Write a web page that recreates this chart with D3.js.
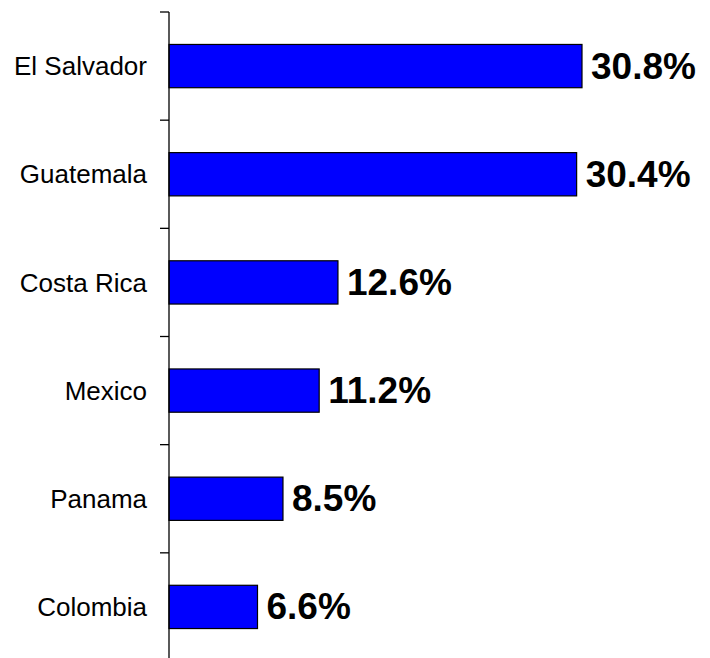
<!DOCTYPE html>
<html>
<head>
<meta charset="utf-8">
<script src="https://cdn.jsdelivr.net/npm/d3@7"></script>
<style>
  body { margin: 0; background: #fff; }
  text { font-family: Arial, "Liberation Sans", sans-serif; }
</style>
</head>
<body>
<div id="chart"></div>
<script>
const categories = ['El Salvador', 'Guatemala', 'Costa Rica', 'Mexico', 'Panama', 'Colombia'];
const values = [30.8, 30.4, 12.6, 11.2, 8.5, 6.6];
const valueLabels = ['30.8%', '30.4%', '12.6%', '11.2%', '8.5%', '6.6%'];

const width = 710, height = 658;
const axisX = 169;

const svg = d3.select('#chart')
  .append('svg')
  .attr('width', width)
  .attr('height', height);

const x = d3.scaleLinear()
  .domain([0, 30.8])
  .range([axisX, 582]);

const y = d3.scaleBand()
  .domain(categories)
  .range([12, 661])
  .paddingInner(0.6)
  .paddingOuter(0.3);

// bars
svg.selectAll('.bar')
  .data(categories)
  .join('rect')
  .attr('class', 'bar')
  .attr('x', axisX)
  .attr('y', d => y(d))
  .attr('width', (d, i) => x(values[i]) - axisX)
  .attr('height', y.bandwidth())
  .attr('fill', '#0000ff')
  .attr('stroke', '#000')
  .attr('stroke-width', 1.2);

// axis line and ticks between categories
const step = y.step();
const tickYs = d3.range(categories.length + 1).map(i => 12 + i * step);

svg.append('line')
  .attr('x1', axisX).attr('x2', axisX)
  .attr('y1', 12).attr('y2', height)
  .attr('stroke', '#000')
  .attr('stroke-width', 1.3);

svg.selectAll('.tick')
  .data(tickYs)
  .join('line')
  .attr('class', 'tick')
  .attr('x1', axisX - 9).attr('x2', axisX)
  .attr('y1', d => d).attr('y2', d => d)
  .attr('stroke', '#000')
  .attr('stroke-width', 1.3);

// category labels
svg.selectAll('.cat-label')
  .data(categories)
  .join('text')
  .attr('class', 'cat-label')
  .attr('x', 147)
  .attr('y', d => y(d) + y.bandwidth() / 2)
  .attr('dy', '0.35em')
  .attr('text-anchor', 'end')
  .attr('font-size', 26)
  .attr('fill', '#000')
  .text(d => d);

// value labels
svg.selectAll('.val-label')
  .data(categories)
  .join('text')
  .attr('class', 'val-label')
  .attr('x', (d, i) => x(values[i]) + 9)
  .attr('y', d => y(d) + y.bandwidth() / 2)
  .attr('dy', '0.34em')
  .attr('font-size', 37)
  .attr('font-weight', 'bold')
  .attr('fill', '#000')
  .text((d, i) => valueLabels[i]);
</script>
</body>
</html>
